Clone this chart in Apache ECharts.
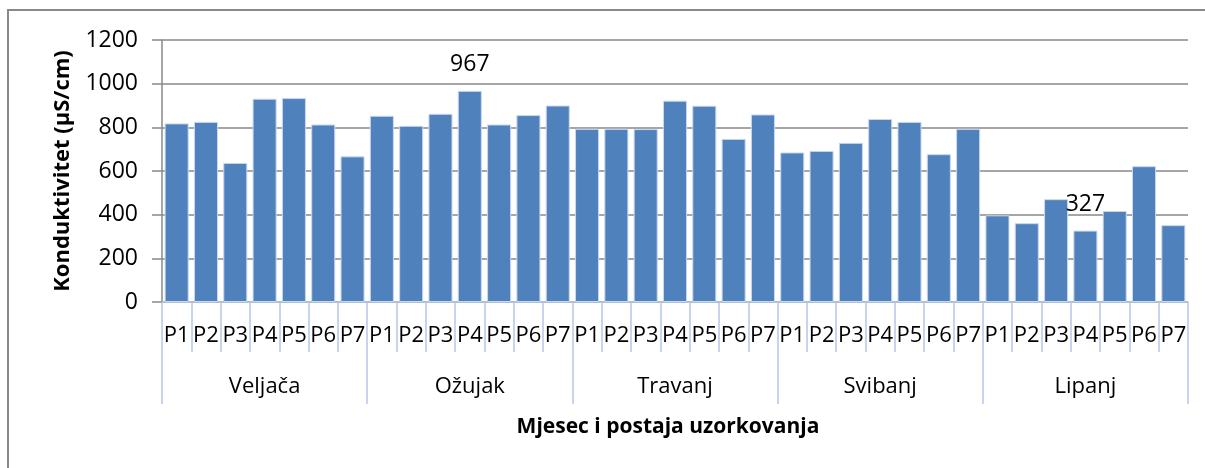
<!DOCTYPE html>
<html>
<head>
<meta charset="utf-8">
<script src="https://cdn.jsdelivr.net/npm/echarts@6/dist/echarts.min.js"></script>
<style>
  html, body { margin: 0; padding: 0; background: #fff; }
  #chart { width: 1205px; height: 468px; }
</style>
</head>
<body>
<div id="chart"></div>
<script>
// mjeseci i postaje
var months = ['Veljača', 'Ožujak', 'Travanj', 'Svibanj', 'Lipanj'];
var stations = ['P1', 'P2', 'P3', 'P4', 'P5', 'P6', 'P7'];

// konduktivitet po mjesecu (µS/cm), P1..P7
var veljaca = [818, 825, 637, 931, 934, 813, 667];
var ozujak  = [853, 807, 862, 967, 813, 856, 900];
var travanj = [793, 793, 792, 922, 899, 747, 859];
var svibanj = [685, 692, 729, 838, 825, 677, 793];
var lipanj  = [397, 361, 471, 327, 417, 622, 352];

var yTicks = [0, 200, 400, 600, 800, 1000, 1200];
// vrijednosti s oznakom na grafu
var labelled = [967, 327];

var allValues = [veljaca, ozujak, travanj, svibanj, lipanj];
var categories = [];
var seriesData = [];
allValues.forEach(function (list, m) {
    list.forEach(function (v, i) {
        categories.push(stations[i]);
        if (labelled.indexOf(v) >= 0) {
            seriesData.push({ value: v, label: { show: true } });
        } else {
            seriesData.push(v);
        }
    });
});

var font = 'Open Sans';
var tickBlue = '#b4c7e7';

var myChart = echarts.init(document.getElementById('chart'));
var option = {
    animation: false,
    textStyle: { fontFamily: font },
    graphic: [{
        type: 'rect',
        shape: { x: 8, y: 10, width: 1220, height: 480 },
        style: { fill: 'none', stroke: '#898989', lineWidth: 2 },
        silent: true
    }],
    title: {
        text: 'Mjesec i postaja uzorkovanja',
        left: 663,
        top: 412,
        textAlign: 'center',
        textStyle: { fontFamily: font, fontSize: 21, fontWeight: 'bold', color: '#000' }
    },
    grid: { left: 162, right: 17, top: 40, bottom: 166 },
    xAxis: [
        {
            type: 'category',
            data: categories,
            position: 'bottom',
            axisLine: { show: true, lineStyle: { color: tickBlue, width: 1.5 } },
            axisTick: { show: true, length: 50, lineStyle: { color: tickBlue, width: 1.5 } },
            axisLabel: { interval: 0, margin: 23, fontSize: 22, color: '#000', fontFamily: font },
            splitLine: { show: false }
        },
        {
            type: 'category',
            data: months,
            position: 'bottom',
            axisLine: { show: false },
            axisTick: { show: true, length: 102, lineStyle: { color: tickBlue, width: 1.5 } },
            axisLabel: { interval: 0, margin: 74, fontSize: 22, color: '#000', fontFamily: font },
            splitLine: { show: false }
        }
    ],
    yAxis: {
        type: 'value',
        min: yTicks[0],
        max: yTicks[yTicks.length - 1],
        interval: 200,
        name: 'Konduktivitet (µS/cm)',
        nameLocation: 'middle',
        nameGap: 88,
        nameTextStyle: { fontFamily: font, fontSize: 22, fontWeight: 'bold', color: '#000' },
        axisLine: { show: true, lineStyle: { color: '#898989', width: 1.5 } },
        axisTick: { show: true, length: 10, lineStyle: { color: '#898989', width: 1.5 } },
        axisLabel: {
            margin: 24, fontSize: 23, color: '#000', fontFamily: font,
            formatter: function (v) { return String(v); }
        },
        splitLine: { show: true, lineStyle: { color: '#898989', width: 1.5 } }
    },
    series: [{
        type: 'bar',
        xAxisIndex: 0,
        data: seriesData,
        barCategoryGap: '18%',
        itemStyle: { color: '#4f81bd', borderColor: '#c9d8ee', borderWidth: 1 },
        label: {
            show: false,
            position: 'top',
            distance: 15,
            fontSize: 23,
            color: '#000',
            fontFamily: font
        }
    }]
};
myChart.setOption(option);
</script>
</body>
</html>
